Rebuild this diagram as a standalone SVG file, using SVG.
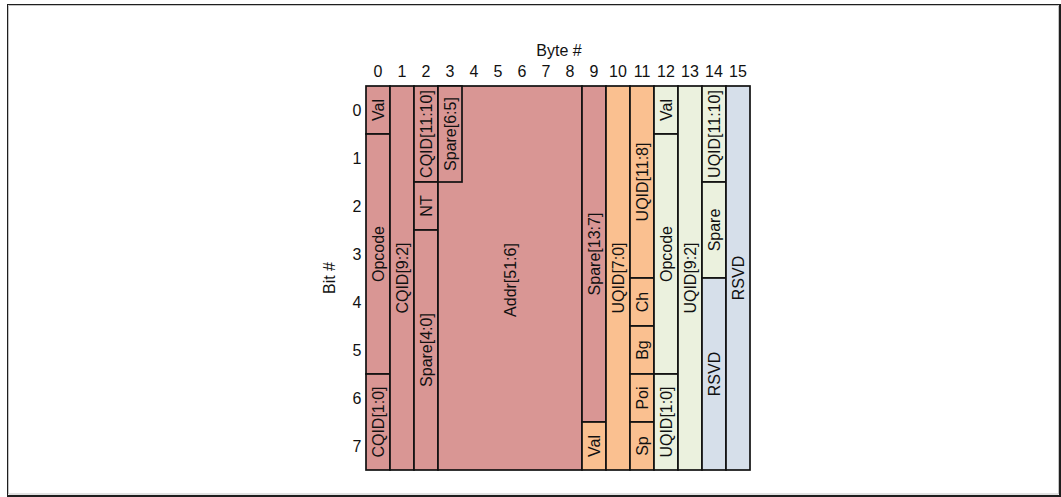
<svg xmlns="http://www.w3.org/2000/svg" width="1061" height="497" viewBox="0 0 1061 497">
<style>
text{font-family:"Liberation Sans",Arial,sans-serif;font-size:16px;fill:#111}
.b{stroke:#111;stroke-width:1.7}
.r{fill:#D99694}
.o{fill:#FAC090}
.g{fill:#EBF1DE}
.u{fill:#D6DFEA}
.l{text-anchor:middle;dominant-baseline:central}
.c{text-anchor:middle}
.rl{text-anchor:middle}
</style>
<rect width="1061" height="497" fill="#fff"/>
<g id="frame" fill="none">
<rect x="7.5" y="4.5" width="1052" height="491" stroke="#1e1e1e" stroke-width="1"/>
<line x1="1060" y1="4" x2="1060" y2="497" stroke="#1e1e1e" stroke-width="2"/>
<line x1="7" y1="496" x2="1061" y2="496" stroke="#1e1e1e" stroke-width="2"/>
<polyline points="8.5,494 8.5,5.5 1058.5,5.5 1058.5,494 8.5,494" stroke="#c4c4c4" stroke-width="1"/>
</g>
<g id="axis-titles">
<text x="559" y="56" class="c">Byte #</text>
<text x="329" y="278" class="l" transform="rotate(-90 329 278)">Bit #</text>
</g>
<g id="byte-labels" class="c">
<text x="378" y="77" class="c">0</text>
<text x="402" y="77" class="c">1</text>
<text x="426" y="77" class="c">2</text>
<text x="450" y="77" class="c">3</text>
<text x="474" y="77" class="c">4</text>
<text x="498" y="77" class="c">5</text>
<text x="522" y="77" class="c">6</text>
<text x="546" y="77" class="c">7</text>
<text x="570" y="77" class="c">8</text>
<text x="594" y="77" class="c">9</text>
<text x="618" y="77" class="c">10</text>
<text x="642" y="77" class="c">11</text>
<text x="666" y="77" class="c">12</text>
<text x="690" y="77" class="c">13</text>
<text x="714" y="77" class="c">14</text>
<text x="738" y="77" class="c">15</text>
</g>
<g id="bit-labels">
<text x="357" y="116" class="rl">0</text>
<text x="357" y="164" class="rl">1</text>
<text x="357" y="212" class="rl">2</text>
<text x="357" y="260" class="rl">3</text>
<text x="357" y="308" class="rl">4</text>
<text x="357" y="356" class="rl">5</text>
<text x="357" y="404" class="rl">6</text>
<text x="357" y="452" class="rl">7</text>
</g>
<g id="b0-val"><rect x="366" y="86" width="24" height="48" class="b r"/><text class="l" x="378" y="110" transform="rotate(-90 378 110)">Val</text></g>
<g id="b0-opcode"><rect x="366" y="134" width="24" height="240" class="b r"/><text class="l" x="378" y="254" transform="rotate(-90 378 254)">Opcode</text></g>
<g id="b0-cqid10"><rect x="366" y="374" width="24" height="96" class="b r"/><text class="l" x="378" y="422" transform="rotate(-90 378 422)">CQID[1:0]</text></g>
<g id="b1-cqid92"><rect x="390" y="86" width="24" height="384" class="b r"/><text class="l" x="402" y="278" transform="rotate(-90 402 278)">CQID[9:2]</text></g>
<g id="b2-cqid1110"><rect x="414" y="86" width="24" height="96" class="b r"/><text class="l" x="426" y="134" transform="rotate(-90 426 134)">CQID[11:10]</text></g>
<g id="b2-nt"><rect x="414" y="182" width="24" height="48" class="b r"/><text class="l" x="426" y="206" transform="rotate(-90 426 206)">NT</text></g>
<g id="b2-spare40"><rect x="414" y="230" width="24" height="240" class="b r"/><text class="l" x="426" y="350" transform="rotate(-90 426 350)">Spare[4:0]</text></g>
<g id="b3-8-addr"><rect x="438" y="86" width="144" height="384" class="b r"/><text class="l" x="510" y="280" transform="rotate(-90 510 280)">Addr[51:6]</text></g>
<g id="b3-spare65"><rect x="438" y="86" width="24" height="96" class="b r"/><text class="l" x="450" y="134" transform="rotate(-90 450 134)">Spare[6:5]</text></g>
<g id="b9-spare137"><rect x="582" y="86" width="24" height="336" class="b r"/><text class="l" x="594" y="254" transform="rotate(-90 594 254)">Spare[13:7]</text></g>
<g id="b9-val"><rect x="582" y="422" width="24" height="48" class="b o"/><text class="l" x="594" y="446" transform="rotate(-90 594 446)">Val</text></g>
<g id="b10-uqid70"><rect x="606" y="86" width="24" height="384" class="b o"/><text class="l" x="618" y="278" transform="rotate(-90 618 278)">UQID[7:0]</text></g>
<g id="b11-uqid118"><rect x="630" y="86" width="24" height="192" class="b o"/><text class="l" x="642" y="182" transform="rotate(-90 642 182)">UQID[11:8]</text></g>
<g id="b11-ch"><rect x="630" y="278" width="24" height="48" class="b o"/><text class="l" x="642" y="302" transform="rotate(-90 642 302)">Ch</text></g>
<g id="b11-bg"><rect x="630" y="326" width="24" height="48" class="b o"/><text class="l" x="642" y="350" transform="rotate(-90 642 350)">Bg</text></g>
<g id="b11-poi"><rect x="630" y="374" width="24" height="48" class="b o"/><text class="l" x="642" y="398" transform="rotate(-90 642 398)">Poi</text></g>
<g id="b11-sp"><rect x="630" y="422" width="24" height="48" class="b o"/><text class="l" x="642" y="446" transform="rotate(-90 642 446)">Sp</text></g>
<g id="b12-val"><rect x="654" y="86" width="24" height="48" class="b g"/><text class="l" x="666" y="110" transform="rotate(-90 666 110)">Val</text></g>
<g id="b12-opcode"><rect x="654" y="134" width="24" height="240" class="b g"/><text class="l" x="666" y="254" transform="rotate(-90 666 254)">Opcode</text></g>
<g id="b12-uqid10"><rect x="654" y="374" width="24" height="96" class="b g"/><text class="l" x="666" y="422" transform="rotate(-90 666 422)">UQID[1:0]</text></g>
<g id="b13-uqid92"><rect x="678" y="86" width="24" height="384" class="b g"/><text class="l" x="690" y="278" transform="rotate(-90 690 278)">UQID[9:2]</text></g>
<g id="b14-uqid1110"><rect x="702" y="86" width="24" height="96" class="b g"/><text class="l" x="714" y="134" transform="rotate(-90 714 134)">UQID[11:10]</text></g>
<g id="b14-spare"><rect x="702" y="182" width="24" height="96" class="b g"/><text class="l" x="714" y="230" transform="rotate(-90 714 230)">Spare</text></g>
<g id="b14-rsvd"><rect x="702" y="278" width="24" height="192" class="b u"/><text class="l" x="714" y="374" transform="rotate(-90 714 374)">RSVD</text></g>
<g id="b15-rsvd"><rect x="726" y="86" width="24" height="384" class="b u"/><text class="l" x="738" y="278" transform="rotate(-90 738 278)">RSVD</text></g>
<g id="connectors"/>
</svg>
